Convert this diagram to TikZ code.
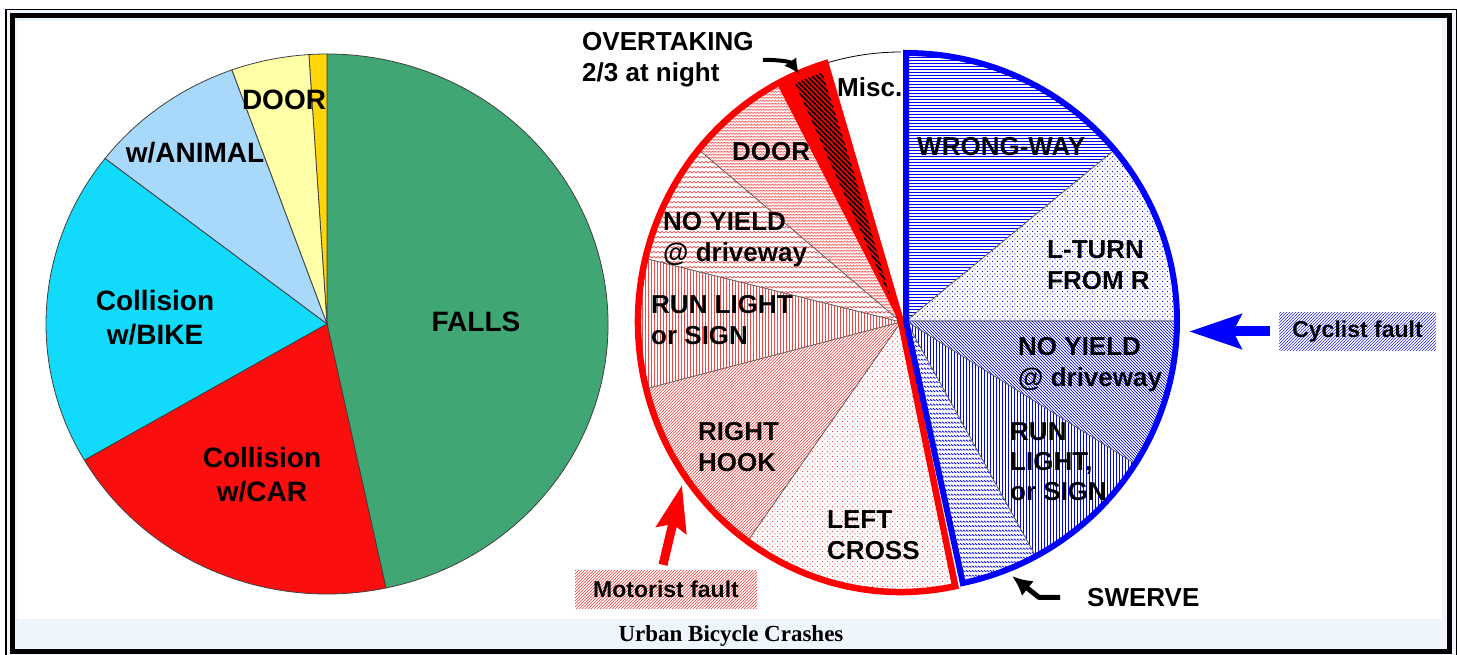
\documentclass[tikz,border=0pt]{standalone}
\usepackage{fontspec}
\setmainfont{Liberation Sans}
\newfontfamily\captionfont{Liberation Serif}
\usetikzlibrary{patterns,arrows.meta}
\tikzset{>=latex}

\definecolor{framebg}{RGB}{238,245,253}
\definecolor{fallsgreen}{RGB}{64,166,116}
\definecolor{golddoor}{RGB}{255,214,10}
\definecolor{paledoor}{RGB}{255,255,168}
\definecolor{animalblue}{RGB}{168,216,250}
\definecolor{bikecyan}{RGB}{18,218,250}
\definecolor{carred}{RGB}{250,14,14}
\definecolor{hatchred}{RGB}{245,70,70}

% fill patterns of the right pie
\pgfdeclarepatternformonly{hrow}{\pgfpoint{-1pt}{-1pt}}{\pgfpoint{100pt}{1pt}}{\pgfpoint{100pt}{3pt}}{%
  \pgfsetlinewidth{0.9pt}\pgfpathmoveto{\pgfpoint{-1pt}{0pt}}\pgfpathlineto{\pgfpoint{100pt}{0pt}}\pgfusepath{stroke}}
\pgfdeclarepatternformonly{vrow}{\pgfpoint{-1pt}{-1pt}}{\pgfpoint{1pt}{100pt}}{\pgfpoint{3pt}{100pt}}{%
  \pgfsetlinewidth{0.8pt}\pgfpathmoveto{\pgfpoint{0pt}{-1pt}}\pgfpathlineto{\pgfpoint{0pt}{100pt}}\pgfusepath{stroke}}
\pgfdeclarepatternformonly{nwrow}{\pgfpoint{-1pt}{-1pt}}{\pgfpoint{4pt}{4pt}}{\pgfpoint{3pt}{3pt}}{%
  \pgfsetlinewidth{0.55pt}\pgfpathmoveto{\pgfpoint{-0.5pt}{3.5pt}}\pgfpathlineto{\pgfpoint{3.5pt}{-0.5pt}}\pgfusepath{stroke}}
\pgfdeclarepatternformonly{nerow}{\pgfpoint{-1pt}{-1pt}}{\pgfpoint{4pt}{4pt}}{\pgfpoint{3pt}{3pt}}{%
  \pgfsetlinewidth{0.55pt}\pgfpathmoveto{\pgfpoint{-0.5pt}{-0.5pt}}\pgfpathlineto{\pgfpoint{3.5pt}{3.5pt}}\pgfusepath{stroke}}
\pgfdeclarepatternformonly{zigrow}{\pgfpoint{-1pt}{-1pt}}{\pgfpoint{5pt}{5pt}}{\pgfpoint{4pt}{5pt}}{%
  \pgfsetlinewidth{0.7pt}\pgfpathmoveto{\pgfpoint{0pt}{1pt}}\pgfpathlineto{\pgfpoint{2pt}{2.6pt}}\pgfpathlineto{\pgfpoint{4pt}{1pt}}\pgfusepath{stroke}}
\pgfdeclarepatternformonly{zigfine}{\pgfpoint{-1pt}{-1pt}}{\pgfpoint{4pt}{4pt}}{\pgfpoint{3pt}{3pt}}{%
  \pgfsetlinewidth{0.55pt}\pgfpathmoveto{\pgfpoint{0pt}{0.5pt}}\pgfpathlineto{\pgfpoint{1.5pt}{2pt}}\pgfpathlineto{\pgfpoint{3pt}{0.5pt}}\pgfusepath{stroke}}
\pgfdeclarepatternformonly{dashrow}{\pgfpoint{-1pt}{-1pt}}{\pgfpoint{4pt}{5pt}}{\pgfpoint{3pt}{4.5pt}}{%
  \pgfsetlinewidth{0.8pt}\pgfpathmoveto{\pgfpoint{0pt}{2.6pt}}\pgfpathlineto{\pgfpoint{2.4pt}{1pt}}\pgfusepath{stroke}}
\pgfdeclarepatternformonly{dotgrid}{\pgfpoint{-1pt}{-1pt}}{\pgfpoint{4pt}{4pt}}{\pgfpoint{5pt}{5pt}}{%
  \pgfpathcircle{\pgfpoint{0pt}{0pt}}{0.7pt}\pgfpathcircle{\pgfpoint{2.5pt}{2.5pt}}{0.7pt}\pgfusepath{fill}}
\pgfdeclarepatternformonly{boldhatch}{\pgfpoint{-1pt}{-1pt}}{\pgfpoint{6pt}{6pt}}{\pgfpoint{5pt}{5pt}}{%
  \pgfsetlinewidth{1.7pt}\pgfpathmoveto{\pgfpoint{-1pt}{6pt}}\pgfpathlineto{\pgfpoint{6pt}{-1pt}}\pgfusepath{stroke}}

\begin{document}
\begin{tikzpicture}[x=1pt, y=1pt,
    lpie/.style={x radius=281, y radius=270},
    rred/.style={x radius=263, y radius=270},
    rblue/.style={x radius=271, y radius=268},
    lslice/.style={draw=black!75, line width=0.8pt},
    rslice/.style={draw=black!60, line width=0.6pt},
    biglabel/.style={inner sep=0pt, align=center, font=\bfseries\fontsize{28}{34}\selectfont},
    slabel/.style={inner sep=0pt, anchor=north west, align=left, font=\bfseries\fontsize{26}{31.5}\selectfont},
    faultbox/.style={inner sep=0pt, minimum height=38pt, font=\bfseries\fontsize{23}{26}\selectfont}]
  \useasboundingbox (0,0) rectangle (1457,654);

  % frame
  \fill[white] (0,0) rectangle (1457,654);
  \fill[framebg] (6,-2) rectangle (1456.5,644.7);
  \draw[line width=1.5pt] (6,-2) rectangle (1456.5,644.7);
  \draw[line width=5pt] (12,3) rectangle (1449.5,638.7);
  \fill[white] (17.3,35) rectangle (1442,633.3);

  % left pie
  \coordinate (lc) at (327,330);
  \filldraw[lslice, fill=fallsgreen] (lc) -- +(-77.9:281 and 270) arc[lpie, start angle=-77.9, end angle=90] -- cycle;
  \filldraw[lslice, fill=golddoor] (lc) -- +(90:281 and 270) arc[lpie, start angle=90, end angle=93.7] -- cycle;
  \filldraw[lslice, fill=paledoor] (lc) -- +(93.7:281 and 270) arc[lpie, start angle=93.7, end angle=109.8] -- cycle;
  \filldraw[lslice, fill=animalblue] (lc) -- +(109.8:281 and 270) arc[lpie, start angle=109.8, end angle=142.2] -- cycle;
  \filldraw[lslice, fill=bikecyan] (lc) -- +(142.2:281 and 270) arc[lpie, start angle=142.2, end angle=210.3] -- cycle;
  \filldraw[lslice, fill=carred] (lc) -- +(210.3:281 and 270) arc[lpie, start angle=210.3, end angle=282.1] -- cycle;

  % right pie, motorist part
  \coordinate (rc) at (901,332);
  \coordinate (bc) at (906,333);
  \draw[rslice, pattern=dotgrid, pattern color=hatchred] (rc) -- +(234.3:263 and 270) arc[rred, start angle=234.3, end angle=281.9] -- cycle;
  \draw[rslice, pattern=nerow, pattern color=hatchred] (rc) -- +(194.3:263 and 270) arc[rred, start angle=194.3, end angle=234.3] -- cycle;
  \draw[rslice, pattern=vrow, pattern color=hatchred] (rc) -- +(166.4:263 and 270) arc[rred, start angle=166.4, end angle=194.3] -- cycle;
  \draw[rslice, pattern=zigrow, pattern color=hatchred] (rc) -- +(140.3:263 and 270) arc[rred, start angle=140.3, end angle=166.4] -- cycle;
  \draw[rslice, pattern=zigfine, pattern color=hatchred] (rc) -- +(117.8:263 and 270) arc[rred, start angle=117.8, end angle=140.3] -- cycle;
  \fill[red] (rc) -- +(106.7:263 and 270) arc[rred, start angle=106.7, end angle=117.8] -- cycle;
  \fill[pattern=boldhatch, pattern color=black] (rc) -- +(108:255 and 262) arc[start angle=108, end angle=114.5, x radius=255, y radius=262] -- cycle;
  \draw[red, line width=3pt] (rc) -- +(117.8:263 and 270);
  \draw[line width=0.8pt] (rc) ++(90:263 and 270) arc[rred, start angle=90, end angle=106.7];

  % right pie, cyclist part
  \draw[rslice, pattern=hrow, pattern color=blue] (bc) -- +(39.7:271 and 268) arc[rblue, start angle=39.7, end angle=90] -- cycle;
  \draw[rslice, pattern=dotgrid, pattern color=blue] (bc) -- +(0:271 and 268) arc[rblue, start angle=0, end angle=39.7] -- cycle;
  \draw[rslice, pattern=nwrow, pattern color=blue] (bc) -- +(-32.2:271 and 268) arc[rblue, start angle=-32.2, end angle=0] -- cycle;
  \draw[rslice, pattern=vrow, pattern color=blue] (bc) -- +(-61.4:271 and 268) arc[rblue, start angle=-61.4, end angle=-32.2] -- cycle;
  \draw[rslice, pattern=dashrow, pattern color=blue] (bc) -- +(-77.9:271 and 268) arc[rblue, start angle=-77.9, end angle=-61.4] -- cycle;

  \draw[red, line width=6.5pt] (rc) -- +(281.9:263 and 270) arc[rred, start angle=281.9, end angle=106.7] -- cycle;
  \draw[blue, line width=6pt] (bc) -- +(90:271 and 268) arc[rblue, start angle=90, end angle=-77.9] -- cycle;

  % labels, left pie
  \node[biglabel] (falls) at (476,332) {FALLS};
  \node[biglabel] (ldoor) at (284,554) {DOOR};
  \node[biglabel] (animal) at (195,501) {w/ANIMAL};
  \node[biglabel] (bike) at (155,336) {Collision\\w/BIKE};
  \node[biglabel] (car) at (262,179) {Collision\\w/CAR};

  % labels, right pie
  \node[slabel] (over) at (582,622) {OVERTAKING\\2/3 at night};
  \node[slabel] (misc) at (837,577) {Misc.};
  \node[slabel] (rdoor) at (732,512) {DOOR};
  \node[slabel] (rnoyield) at (663,442) {NO YIELD\\@ driveway};
  \node[slabel] (rrun) at (651,359) {RUN LIGHT\\or SIGN};
  \node[slabel] (rhook) at (698,232) {RIGHT\\HOOK};
  \node[slabel] (lcross) at (827,144) {LEFT\\CROSS};
  \node[slabel] (wrong) at (917,517) {WRONG-WAY};
  \node[slabel] (lturn) at (1047,414) {L-TURN\\FROM R};
  \node[slabel] (bnoyield) at (1018,317) {NO YIELD\\@ driveway};
  \node[slabel, font=\bfseries\fontsize{26}{30}\selectfont] (brun) at (1010,232) {RUN\\LIGHT,\\or SIGN};
  \node[slabel] (swerve) at (1087,66) {SWERVE};

  % fault boxes and arrows
  \node[faultbox, minimum width=157pt, pattern=nerow, pattern color=blue!80] (cyc) at (1357.5,322.5) {Cyclist fault};
  \node[faultbox, minimum width=182pt, pattern=nerow, pattern color=hatchred] (mot) at (666,65) {Motorist fault};
  \coordinate (cyctip) at (1189,321);
  \coordinate (mottip) at (682,169);
  \coordinate (swervetip) at (1012,78);
  \coordinate (overtip) at (799,580);
  \draw[blue, line width=10pt, -{Stealth[length=52pt, width=34pt, inset=8pt]}] ([xshift=-9pt]cyc.west) -- (cyc.west -| cyctip);
  \draw[red, line width=9pt, -{Stealth[length=46pt, width=30pt, inset=6pt]}] ([xshift=-3pt, yshift=5pt]mot.north) -- (mottip);
  \draw[line width=5pt, line join=round, -{Latex[length=20pt, width=19pt]}] ([xshift=-27pt]swerve.west) -- ++(-21,0) -- (swervetip);
  \draw[line width=4pt, -{Latex[length=15pt, width=15pt]}] ([xshift=9pt]over.east) to[out=0, in=125] (overtip);

  \node[font=\captionfont\bfseries\fontsize{23}{26}\selectfont] (title) at (731,18) {Urban Bicycle Crashes};
\end{tikzpicture}
\end{document}
